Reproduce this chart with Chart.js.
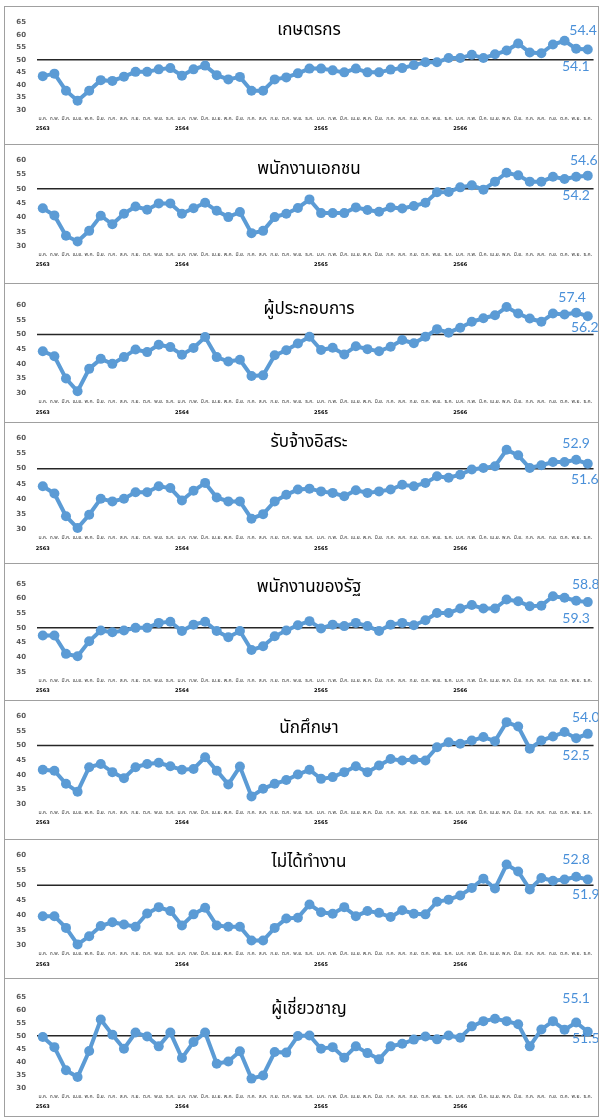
<!DOCTYPE html>
<html>
<head>
<meta charset="utf-8">
<script src="https://cdn.jsdelivr.net/npm/chart.js@4.4.0/dist/chart.umd.min.js"></script>
<style>
  html, body { margin: 0; padding: 0; background: #fff; }
  body { width: 601px; height: 1117px; position: relative; overflow: hidden; }
  .panel { position: absolute; left: 4px; width: 595px; box-sizing: border-box; border: 1px solid #a0a0a0; background: #fff; }
  .panel canvas { display: block; }
</style>
</head>
<body>
<script>
// month / year labels
const months = ['ม.ค.', 'ก.พ.', 'มี.ค.', 'เม.ย.', 'พ.ค.', 'มิ.ย.', 'ก.ค.', 'ส.ค.', 'ก.ย.', 'ต.ค.', 'พ.ย.', 'ธ.ค.'];
const years = ['2563', '2564', '2565', '2566'];

const titles = ['เกษตรกร', 'พนักงานเอกชน', 'ผู้ประกอบการ', 'รับจ้างอิสระ', 'พนักงานของรัฐ', 'นักศึกษา', 'ไม่ได้ทำงาน', 'ผู้เชี่ยวชาญ'];

const farmers = [43.5, 44.5, 37.7, 33.7, 37.7, 41.9, 41.6, 43.3, 45.2, 45.2, 46.2, 46.7,
  43.7, 46.2, 47.7, 43.9, 42.2, 43.2, 37.7, 37.7, 42.2, 43.0, 44.6, 46.5,
  46.5, 45.8, 45.0, 46.5, 45.0, 45.0, 46.1, 46.7, 47.9, 49.0, 49.0, 50.7,
  50.7, 52.0, 50.7, 52.2, 53.7, 56.5, 52.9, 52.6, 56.1, 57.6, 54.4, 54.1];
const privateEmployees = [43.2, 40.7, 33.6, 31.6, 35.3, 40.6, 37.6, 41.3, 43.8, 42.7, 44.9, 44.9,
  41.3, 43.2, 45.1, 42.3, 40.1, 41.9, 34.5, 35.3, 40.1, 41.3, 43.3, 46.3,
  41.5, 41.5, 41.5, 43.5, 42.6, 42.0, 43.5, 43.1, 44.0, 45.1, 48.8, 48.9,
  50.5, 51.2, 49.7, 52.5, 55.6, 54.7, 52.5, 52.5, 54.2, 53.4, 54.2, 54.6];
const entrepreneurs = [44.3, 42.6, 35.0, 30.7, 38.3, 41.7, 40.0, 42.3, 44.9, 44.0, 46.5, 45.7,
  43.1, 45.4, 49.1, 42.3, 40.8, 41.4, 35.9, 36.1, 42.9, 44.6, 46.9, 49.2,
  44.7, 45.5, 43.2, 46.0, 45.0, 44.3, 45.8, 48.1, 47.0, 49.2, 51.8, 50.6,
  52.3, 54.3, 55.5, 56.5, 59.3, 57.1, 55.4, 54.3, 57.1, 56.8, 57.4, 56.2];
const freelancers = [44.2, 41.8, 34.3, 30.4, 34.8, 40.1, 39.2, 40.1, 42.2, 42.2, 44.2, 43.6,
  39.5, 42.7, 45.3, 40.5, 39.2, 39.2, 33.5, 35.0, 39.2, 41.4, 43.1, 43.4,
  42.5, 42.0, 40.9, 42.9, 42.0, 42.5, 43.1, 44.7, 44.2, 45.3, 47.5, 47.0,
  48.0, 49.7, 50.2, 50.8, 56.2, 54.4, 50.2, 51.1, 52.2, 52.2, 52.9, 51.6];
const stateEmployees = [47.4, 47.4, 41.1, 40.3, 45.4, 49.1, 48.5, 49.1, 50.0, 50.0, 51.7, 52.1,
  48.9, 51.1, 52.1, 48.9, 46.8, 48.9, 42.4, 43.7, 47.1, 49.1, 50.9, 52.3,
  49.8, 51.1, 50.6, 51.7, 50.6, 48.9, 51.1, 51.7, 50.9, 52.6, 55.1, 55.1,
  56.6, 57.8, 56.6, 56.6, 59.7, 59.1, 57.4, 57.6, 60.8, 60.3, 59.3, 58.8];
const students = [41.7, 41.4, 36.9, 34.2, 42.6, 43.7, 40.9, 38.8, 42.6, 43.7, 44.1, 42.9,
  41.7, 42.0, 46.0, 41.4, 36.7, 42.8, 32.6, 35.2, 36.9, 38.2, 40.1, 41.7,
  38.6, 39.2, 40.9, 42.9, 40.9, 43.2, 45.4, 44.9, 45.2, 44.9, 49.4, 51.1,
  50.6, 51.7, 52.9, 51.5, 58.0, 56.5, 48.9, 51.7, 53.1, 54.6, 52.5, 54.0];
const unemployed = [39.7, 39.7, 35.8, 30.3, 33.0, 36.4, 37.7, 36.9, 36.2, 40.6, 42.7, 41.4,
  36.6, 40.3, 42.5, 36.6, 36.2, 36.2, 31.6, 31.6, 35.8, 38.9, 39.2, 43.6,
  41.0, 40.5, 42.7, 39.7, 41.4, 40.8, 39.4, 41.7, 40.5, 40.3, 44.5, 45.2,
  46.6, 49.1, 52.2, 48.9, 56.9, 54.6, 48.6, 52.4, 51.5, 51.9, 52.8, 51.9];
const experts = [49.5, 45.6, 36.7, 34.1, 44.1, 56.2, 50.4, 45.0, 51.2, 49.7, 45.9, 51.2,
  41.4, 47.6, 51.2, 39.2, 40.1, 44.0, 33.5, 34.7, 43.7, 43.5, 49.9, 50.1,
  45.0, 45.6, 41.5, 45.9, 43.3, 40.9, 45.9, 46.9, 48.5, 49.7, 48.6, 50.1,
  49.2, 53.6, 55.6, 56.5, 55.6, 54.4, 45.9, 52.4, 55.6, 52.3, 55.1, 51.5];

const series = [farmers, privateEmployees, entrepreneurs, freelancers, stateEmployees, students, unemployed, experts];
const yMin = [30, 30, 30, 30, 35, 30, 30, 30];
const yMax = [65, 60, 60, 60, 65, 60, 60, 65];
const threshold = 50;

const labels = [];
years.forEach(() => months.forEach(m => labels.push(m)));

// layout of each box (pixels)
const panelTops = [6, 144, 283, 422, 563, 700, 839, 978, 1116];
const areaTop = [13.7, 12.3, 21, 15.3, 20, 15.3, 15, 17.7];
const areaBottom = [103, 101, 109.3, 106.3, 107.7, 103, 105.3, 108.7];
const titleY = [25, 26, 26.5, 21, 25, 29, 24, 32];
// label offsets for the last two points [dx, dy]
const calloutOffsets = [
  [[7, -18], [-12, 17]],
  [[0, 19], [-4, -15]],
  [[-4, -15], [-3, 11]],
  [[0, -16], [-3, 16]],
  [[0, 18], [-2, -18]],
  [[0, 17], [-2, -16]],
  [[0, -17], [-2, 15]],
  [[0, -24], [-2, 7]]
];

const BLUE = '#5B9BD5';
const LABEL_BLUE = '#4A90D9';
const THAI_FONT = 'Tahoma, "Noto Sans Thai", "Leelawadee UI", "DejaVu Sans", sans-serif';

const refLine = {
  id: 'refLine',
  beforeDatasetsDraw(chart) {
    const { ctx, chartArea, scales } = chart;
    const py = scales.y.getPixelForValue(threshold);
    ctx.save();
    ctx.strokeStyle = '#262626';
    ctx.lineWidth = 1.5;
    ctx.beginPath();
    ctx.moveTo(chartArea.left, py);
    ctx.lineTo(chartArea.right, py);
    ctx.stroke();
    ctx.restore();
  }
};

const panelText = {
  id: 'panelText',
  afterDatasetsDraw(chart, args, opts) {
    const ctx = chart.ctx;
    ctx.save();
    ctx.fillStyle = '#000';
    ctx.font = '17px ' + THAI_FONT;
    ctx.textAlign = 'center';
    ctx.textBaseline = 'middle';
    ctx.fillText(opts.title, 304, opts.titleY);

    const meta = chart.getDatasetMeta(0);
    const values = chart.data.datasets[0].data;
    ctx.fillStyle = LABEL_BLUE;
    ctx.font = '14px Lato, "Open Sans", sans-serif';
    opts.offsets.forEach((off, k) => {
      const i = values.length - 2 + k;
      const pt = meta.data[i];
      ctx.fillText(values[i].toFixed(1), pt.x + off[0], pt.y + off[1]);
    });
    ctx.restore();
  }
};

series.forEach((values, p) => {
  const top = panelTops[p];
  const h = panelTops[p + 1] - top + 1;
  const div = document.createElement('div');
  div.className = 'panel';
  div.style.top = top + 'px';
  div.style.height = h + 'px';
  const canvas = document.createElement('canvas');
  const cw = 593, ch = h - 2;
  canvas.width = cw;
  canvas.height = ch;
  canvas.style.width = cw + 'px';
  canvas.style.height = ch + 'px';
  div.appendChild(canvas);
  document.body.appendChild(div);

  const monthBand = 13;
  const yearBand = ch - areaBottom[p] - monthBand;

  new Chart(canvas.getContext('2d'), {
    type: 'line',
    data: {
      labels: labels,
      datasets: [{
        data: values,
        borderColor: BLUE,
        backgroundColor: BLUE,
        borderWidth: 4,
        pointRadius: 5,
        pointHoverRadius: 5,
        pointBorderWidth: 0,
        pointBackgroundColor: BLUE,
        tension: 0,
        clip: false
      }]
    },
    options: {
      responsive: false,
      animation: false,
      events: [],
      layout: { autoPadding: false, padding: { top: areaTop[p], bottom: 0, left: 0, right: 1 } },
      plugins: {
        legend: { display: false },
        tooltip: { enabled: false },
        panelText: { title: titles[p], titleY: titleY[p], offsets: calloutOffsets[p] }
      },
      scales: {
        x: {
          type: 'category',
          offset: true,
          weight: 0,
          grid: { display: false, drawTicks: false },
          border: { display: false },
          ticks: { autoSkip: false, maxRotation: 0, minRotation: 0, padding: 6, color: '#404040', font: { size: 5, family: THAI_FONT } },
          afterFit: s => { s.height = monthBand; }
        },
        x2: {
          type: 'category',
          labels: labels,
          position: 'bottom',
          offset: true,
          weight: 1,
          grid: { display: false, drawTicks: false },
          border: { display: false },
          ticks: {
            autoSkip: false, maxRotation: 0, minRotation: 0, padding: 3, color: '#000',
            font: { size: 5, weight: 'bold', family: 'DejaVu Sans' },
            callback: (v, i) => (i % 12 === 0 ? years[i / 12] : '')
          },
          afterFit: s => { s.height = yearBand; }
        },
        y: {
          min: yMin[p],
          max: yMax[p],
          grid: { display: false, drawTicks: false },
          border: { display: false },
          ticks: { stepSize: 5, padding: 11, color: '#595959', font: { size: 7, weight: 'bold', family: 'DejaVu Sans' } },
          afterFit: s => { s.width = 32; }
        }
      }
    },
    plugins: [refLine, panelText]
  });
});
</script>
</body>
</html>
